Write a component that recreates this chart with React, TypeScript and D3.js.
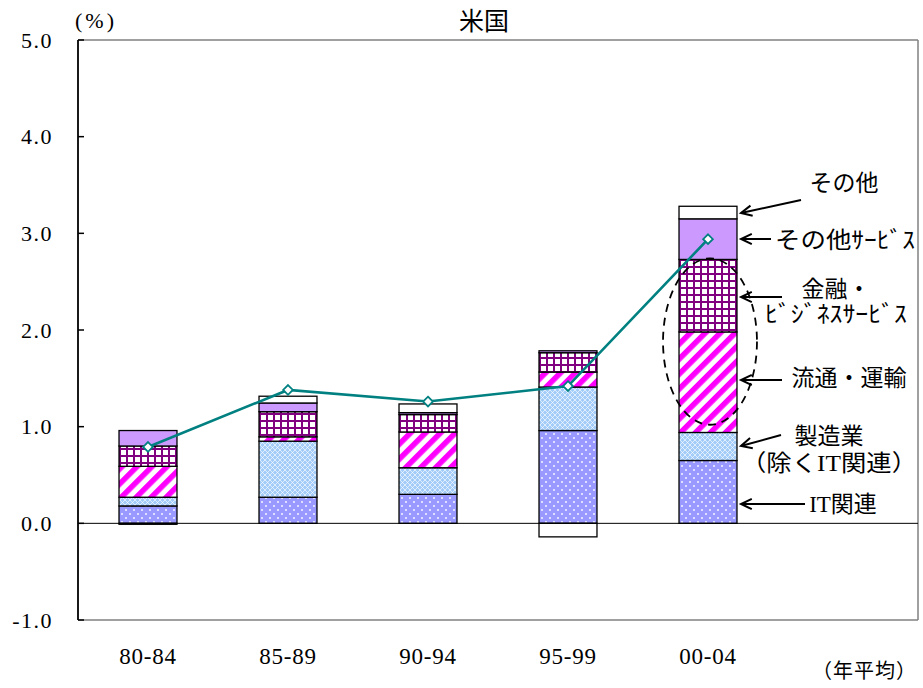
import React from "react";
import * as d3 from "d3";

const categories = ["80-84", "85-89", "90-94", "95-99", "00-04"];
const itValues = [0.18, 0.27, 0.3, 0.96, 0.65];
const manufValues = [0.09, 0.58, 0.275, 0.45, 0.29];
const distValues = [0.32, 0.045, 0.37, 0.155, 1.04];
const financeValues = [0.21, 0.26, 0.18, 0.2, 0.75];
const otherServValues = [0.16, 0.09, 0.02, 0.02, 0.42];
const otherValues = [-0.01, 0.07, 0.09, -0.14, 0.13];
const totalLine = [0.79, 1.38, 1.26, 1.42, 2.94];
const yTicks = [-1, 0, 1, 2, 3, 4, 5];
const seriesKeys = ["it", "manuf", "dist", "finance", "otherServ", "other"];

const W = 923;
const H = 688;
const left = 78;
const right = 918;
const top = 40;
const bottom = 620;

const SERIF = "'Liberation Serif', 'Noto Sans CJK JP', serif";
const JP = "'Noto Sans CJK JP', sans-serif";

const fills: Record<string, string> = {
  it: "url(#patIT)",
  manuf: "url(#patManuf)",
  dist: "url(#patDist)",
  finance: "url(#patFin)",
  otherServ: "#CC99FF",
  other: "#FFFFFF",
};

const annotations = [
  { lines: ["その他"], tx: 844, ty: [191], len: [0], from: [801, 200], to: [741, 213] },
  { lines: ["その他ｻｰﾋﾞｽ"], tx: 845, ty: [248], len: [140], from: [771, 239], to: [741, 239] },
  { lines: ["金融・", "ﾋﾞｼﾞﾈｽｻｰﾋﾞｽ"], tx: 836, ty: [297, 322], len: [0, 142], from: [782, 297], to: [741, 297] },
  { lines: ["流通・運輸"], tx: 849, ty: [386], len: [0], from: [782, 380], to: [741, 380] },
  { lines: ["製造業", "（除くIT関連）"], tx: 829, ty: [444, 471], len: [0, 176], from: [781, 435], to: [741, 446] },
  { lines: ["IT関連"], tx: 843, ty: [512], len: [0], from: [805, 504], to: [741, 504] },
];

export default function App() {
  const rows = categories.map((c, i) => ({
    cat: c,
    it: itValues[i],
    manuf: manufValues[i],
    dist: distValues[i],
    finance: financeValues[i],
    otherServ: otherServValues[i],
    other: otherValues[i],
  }));
  const stacked = d3
    .stack<any>()
    .keys(seriesKeys)
    .offset(d3.stackOffsetDiverging)(rows);

  const x = d3
    .scaleBand<string>()
    .domain([...categories, "_"])
    .range([left, right])
    .paddingInner(0.586)
    .paddingOuter(0.293);
  const y = d3.scaleLinear().domain([-1, 5]).range([bottom, top]);
  const bw = x.bandwidth();
  const cx = (c: string) => (x(c) as number) + bw / 2;

  const line = d3
    .line<number>()
    .x((_, i) => cx(categories[i]))
    .y((d) => y(d));

  const ellCx = cx("00-04") + 2;
  const ellCy = y(1.88);
  const ellRy = (y(1.02) - y(2.74)) / 2;

  return (
    <svg
      width={W}
      height={H}
      style={{ position: "absolute", left: 0, top: 0, background: "#fff" }}
    >
      <defs>
        <pattern id="patIT" width={8} height={8} patternUnits="userSpaceOnUse">
          <rect width={8} height={8} fill="#9999FF" />
          <circle cx={2} cy={2} r={0.9} fill="#fff" />
          <circle cx={6} cy={6} r={0.9} fill="#fff" />
        </pattern>
        <pattern id="patManuf" width={5} height={5} patternUnits="userSpaceOnUse">
          <rect width={5} height={5} fill="#A3CDF8" />
          <path d="M0,0 L5,5 M5,0 L0,5" stroke="#fff" strokeWidth={0.8} strokeOpacity={0.8} />
        </pattern>
        <pattern id="patDist" width={10.6} height={10.6} patternUnits="userSpaceOnUse" patternTransform="rotate(45)">
          <rect width={10.6} height={10.6} fill="#fff" />
          <rect width={5.5} height={10.6} fill="#FF00FF" />
        </pattern>
        <pattern id="patFin" width={7} height={7} patternUnits="userSpaceOnUse">
          <rect width={7} height={7} fill="#fff" />
          <rect x={0} y={0} width={2} height={7} fill="#800080" />
          <rect x={0} y={0} width={7} height={2} fill="#800080" />
        </pattern>
      </defs>

      {/* frame */}
      <line x1={left} x2={right} y1={top} y2={top} stroke="#808080" strokeWidth={1.5} />
      <line x1={left} x2={right} y1={bottom} y2={bottom} stroke="#808080" strokeWidth={1.5} />
      <line x1={right} x2={right} y1={top} y2={bottom} stroke="#808080" strokeWidth={1.5} />

      {/* bars */}
      {stacked.map((s) => (
        <g key={s.key}>
          {s.map((d, i) => {
            const y0 = y(Math.max(d[0], d[1]));
            const y1 = y(Math.min(d[0], d[1]));
            return (
              <rect
                key={i}
                x={x(categories[i])}
                y={y0}
                width={bw}
                height={Math.max(0, y1 - y0)}
                fill={fills[s.key]}
                stroke="#000"
                strokeWidth={1.3}
              />
            );
          })}
        </g>
      ))}

      {/* zero line */}
      <line x1={left} x2={right} y1={y(0)} y2={y(0)} stroke="#000" strokeWidth={1} />

      {/* y axis */}
      <line x1={left} x2={left} y1={top} y2={bottom} stroke="#000" strokeWidth={1.8} />
      {yTicks.map((t) => (
        <g key={t}>
          <line x1={left} x2={left + 6} y1={y(t)} y2={y(t)} stroke="#000" strokeWidth={1.5} />
          <text x={53} y={y(t) + 7.5} textAnchor="end" fontFamily={SERIF} fontSize={22} letterSpacing={1.5} fill="#000">
            {t.toFixed(1)}
          </text>
        </g>
      ))}
      <text x={96} y={28} textAnchor="middle" fontFamily={SERIF} fontSize={22} letterSpacing={3} fill="#000">
        (%)
      </text>

      {/* x labels */}
      {categories.map((c) => (
        <text key={c} x={cx(c)} y={664} textAnchor="middle" fontFamily={SERIF} fontSize={23} letterSpacing={0.8} fill="#000">
          {c}
        </text>
      ))}
      <text x={917} y={678} textAnchor="end" fontFamily={JP} fontSize={20} letterSpacing={1} fill="#000">
        （年平均）
      </text>

      {/* title */}
      <text x={484} y={30} textAnchor="middle" fontFamily={JP} fontSize={25} fill="#000">
        米国
      </text>

      {/* dashed ellipse */}
      <ellipse cx={ellCx} cy={ellCy} rx={bw / 2 + 18} ry={ellRy} fill="none" stroke="#000" strokeWidth={1.8} strokeDasharray="8,6" />

      {/* total line */}
      <path d={line(totalLine) || ""} fill="none" stroke="#008080" strokeWidth={2.6} />
      {totalLine.map((v, i) => (
        <path
          key={i}
          d={d3.symbol().type(d3.symbolDiamond2).size(60)() || ""}
          transform={`translate(${cx(categories[i])},${y(v)})`}
          fill="#fff"
          stroke="#008080"
          strokeWidth={1.8}
        />
      ))}

      {/* annotations */}
      {annotations.map((a, k) => {
        const [fx, fy] = a.from;
        const [tx, ty] = a.to;
        const ang = Math.atan2(fy - ty, fx - tx);
        const hl = 12;
        const spread = 0.45;
        const h1 = [tx + hl * Math.cos(ang + spread), ty + hl * Math.sin(ang + spread)];
        const h2 = [tx + hl * Math.cos(ang - spread), ty + hl * Math.sin(ang - spread)];
        return (
          <g key={k}>
            <line x1={fx} y1={fy} x2={tx} y2={ty} stroke="#000" strokeWidth={2} />
            <path d={`M${h1[0]},${h1[1]} L${tx},${ty} L${h2[0]},${h2[1]}`} fill="none" stroke="#000" strokeWidth={2} />
            {a.lines.map((l, j) => (
              <text
                key={j}
                x={a.tx}
                y={a.ty[j]}
                textAnchor="middle"
                fontFamily={SERIF}
                fontSize={23}
                fill="#000"
                {...(a.len[j] ? { textLength: a.len[j], lengthAdjust: "spacingAndGlyphs" } : {})}
              >
                {l}
              </text>
            ))}
          </g>
        );
      })}
    </svg>
  );
}
